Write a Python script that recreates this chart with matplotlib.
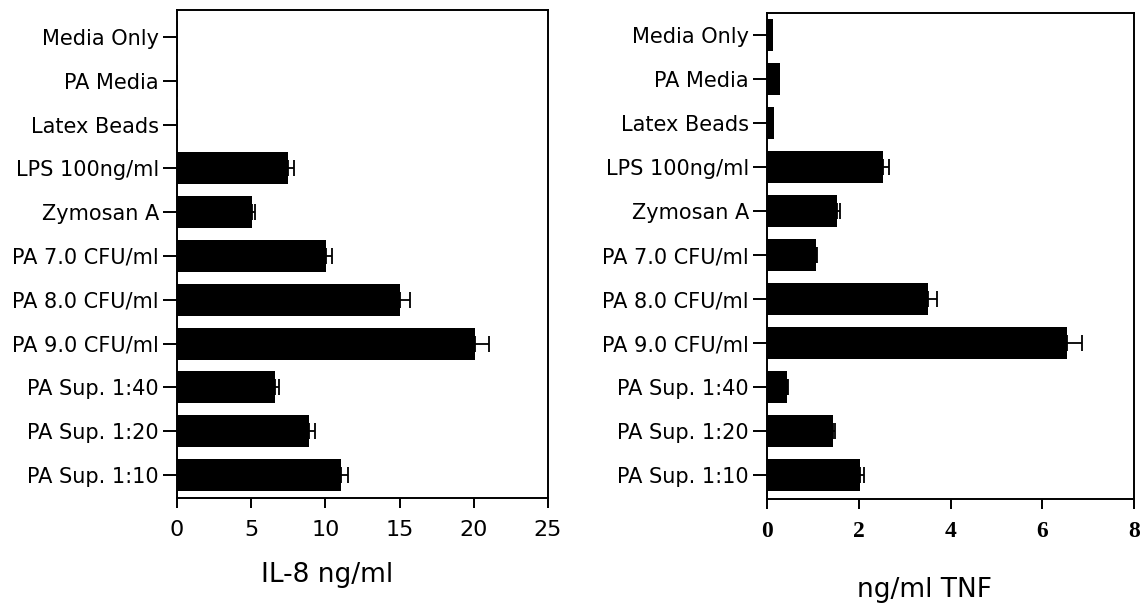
import numpy as np
import matplotlib
matplotlib.use("Agg")
import matplotlib.pyplot as plt

# categories, top to bottom
categories = ["Media Only", "PA Media", "Latex Beads", "LPS 100ng/ml", "Zymosan A",
              "PA 7.0 CFU/ml", "PA 8.0 CFU/ml", "PA 9.0 CFU/ml",
              "PA Sup. 1:40", "PA Sup. 1:20", "PA Sup. 1:10"]

# IL-8 (ng/ml), mean and upper error
il8_mean = [0.05, 0.05, 0.05, 7.5, 5.05, 10.07, 15.0, 20.05, 6.6, 8.9, 11.05]
il8_err = [0.0, 0.0, 0.0, 0.4, 0.2, 0.4, 0.7, 0.95, 0.3, 0.4, 0.5]

# TNF (ng/ml), mean and upper error
tnf_mean = [0.14, 0.28, 0.15, 2.53, 1.53, 1.06, 3.51, 6.54, 0.43, 1.43, 2.02]
tnf_err = [0.0, 0.0, 0.0, 0.12, 0.07, 0.03, 0.19, 0.32, 0.02, 0.05, 0.1]

il8_ticks = [0, 5, 10, 15, 20, 25]
tnf_ticks = [0, 2, 4, 6, 8]

plt.rcParams['font.family'] = ['DejaVu Sans']

fig = plt.figure(figsize=(11.45, 6.09), dpi=100)
ax1 = fig.add_axes([0.1546, 0.1823, 0.324, 0.8013])
ax2 = fig.add_axes([0.6699, 0.1806, 0.3205, 0.798])

y = np.arange(len(categories))


def dibujar(ax, medias, errores, ticks, ylim):
    ax.barh(y, medias, height=0.73, color="black", zorder=2)
    medias = np.array(medias)
    errores = np.array(errores)
    m = errores > 0      # solo las barras con error visible
    ax.errorbar(medias[m], y[m], xerr=[np.zeros(m.sum()), errores[m]], fmt="none",
                ecolor="black", elinewidth=1.3, capsize=5.5, capthick=1.3, zorder=3)
    ax.set_yticks(y)
    ax.set_yticklabels(categories, fontsize=15)
    ax.set_ylim(ylim)
    ax.set_xticks(ticks)
    ax.set_xlim(ticks[0], ticks[-1])
    for s in ax.spines.values():
        s.set_linewidth(1.4)
    ax.tick_params(axis="y", direction="out", length=10, width=1.4, pad=3)
    ax.tick_params(axis="x", direction="out", length=7, width=1.4, pad=9)


dibujar(ax1, il8_mean, il8_err, il8_ticks, (10.525, -0.617))
dibujar(ax2, tnf_mean, tnf_err, tnf_ticks, (10.545, -0.5))

for lab in ax1.get_xticklabels():
    lab.set_fontsize(16)
for lab in ax2.get_xticklabels():
    lab.set_fontfamily("Liberation Serif")
    lab.set_fontweight("bold")
    lab.set_fontsize(17)

ax1.set_xlabel("IL-8 ng/ml", fontsize=19)
ax1.xaxis.set_label_coords(0.404, -0.158)
ax1.xaxis.label.set_va("center")
ax2.set_xlabel("ng/ml TNF", fontsize=19)
ax2.xaxis.set_label_coords(0.43, -0.187)
ax2.xaxis.label.set_va("center")

fig.savefig("out.png", dpi=100)
